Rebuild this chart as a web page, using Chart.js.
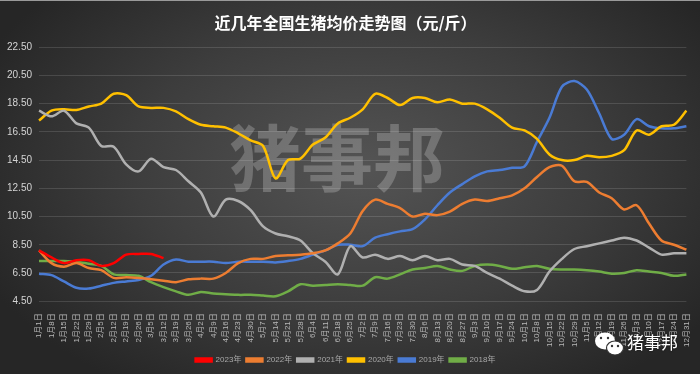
<!DOCTYPE html>
<html>
<head>
<meta charset="utf-8">
<script src="https://cdn.jsdelivr.net/npm/chart.js@4"></script>
<style>
  html, body { margin: 0; padding: 0; background: #222; }
  #wrap {
    position: relative;
    width: 700px;
    height: 374px;
    border-top: 1px solid #9a9a9a;
    box-sizing: border-box;
    background: radial-gradient(ellipse 60% 70% at 52% 45%, #545454 0%, #3d3d3d 55%, #262626 100%);
  }
</style>
</head>
<body>
<div id="wrap"><canvas id="chart" width="700" height="373"></canvas></div>
<script>
// weekly date labels
const dates = [
    '1月1日', '1月8日', '1月15日', '1月22日', '1月29日', '2月5日', '2月12日', '2月19日', '2月26日',
    '3月5日', '3月12日', '3月19日', '3月26日', '4月2日', '4月9日', '4月16日', '4月23日', '4月30日',
    '5月7日', '5月14日', '5月21日', '5月28日', '6月4日', '6月11日', '6月18日', '6月25日',
    '7月2日', '7月9日', '7月16日', '7月23日', '7月30日', '8月6日', '8月13日', '8月20日', '8月27日',
    '9月3日', '9月10日', '9月17日', '9月24日', '10月1日', '10月8日', '10月15日', '10月22日', '10月29日',
    '11月5日', '11月12日', '11月19日', '11月26日', '12月3日', '12月10日', '12月17日', '12月24日', '12月31日'
];

const price2023 = [8.1, 7.6, 7.2, 7.4, 7.4, 7.0, 7.2, 7.8, 7.85, 7.85, 7.55];

const price2022 = [8.1, 7.2, 6.95, 7.2, 6.85, 6.7, 6.15, 6.2, 6.15, 6.05, 5.95, 5.85, 6.05, 6.1, 6.1, 6.5,
    7.2, 7.5, 7.5, 7.7, 7.75, 7.8, 7.9, 8.1, 8.6, 9.3, 10.9, 11.7, 11.4, 11.1, 10.5, 10.7, 10.6, 10.85,
    11.4, 11.7, 11.6, 11.8, 12.0, 12.5, 13.3, 14.0, 14.1, 13.0, 12.95, 12.2, 11.8, 11.0, 11.3, 10.0,
    8.8, 8.5, 8.15];

const price2021 = [18.0, 17.6, 18.0, 17.1, 16.8, 15.5, 15.45, 14.2, 13.7, 14.6, 14.0, 13.8, 13.0, 12.2,
    10.5, 11.7, 11.6, 10.95, 9.8, 9.3, 9.1, 8.8, 7.9, 7.3, 6.4, 8.4, 7.6, 7.8, 7.5, 7.7, 7.4, 7.7, 7.4,
    7.5, 7.1, 7.0, 6.5, 6.1, 5.6, 5.2, 5.3, 6.6, 7.5, 8.2, 8.4, 8.6, 8.8, 9.0, 8.8, 8.3, 7.8, 7.9, 7.9];

const price2020 = [17.3, 18.0, 18.1, 18.05, 18.3, 18.5, 19.2, 19.1, 18.3, 18.2, 18.2, 17.95, 17.4, 17.0,
    16.9, 16.8, 16.4, 15.9, 15.5, 13.2, 14.5, 14.6, 15.6, 16.1, 17.1, 17.5, 18.1, 19.2, 18.9, 18.4,
    18.9, 18.9, 18.6, 18.8, 18.5, 18.5, 18.1, 17.5, 16.8, 16.6, 16.0, 14.9, 14.5, 14.5, 14.8, 14.7,
    14.8, 15.2, 16.6, 16.3, 16.9, 17.0, 18.0];

const price2019 = [6.45, 6.35, 5.9, 5.45, 5.4, 5.6, 5.8, 5.9, 6.0, 6.3, 7.1, 7.45, 7.3, 7.3, 7.3, 7.2,
    7.3, 7.3, 7.3, 7.25, 7.35, 7.5, 7.8, 8.1, 8.5, 8.5, 8.4, 9.0, 9.25, 9.45, 9.6, 10.3, 11.3, 12.2,
    12.8, 13.35, 13.7, 13.8, 13.95, 14.05, 15.8, 17.5, 19.7, 20.1, 19.5, 17.8, 16.0, 16.3, 17.4, 16.9,
    16.75, 16.75, 16.9];

const price2018 = [7.35, 7.35, 7.35, 7.3, 7.15, 7.0, 6.4, 6.35, 6.3, 5.85, 5.5, 5.2, 4.95, 5.15, 5.05,
    5.0, 4.95, 4.95, 4.9, 4.85, 5.2, 5.7, 5.6, 5.65, 5.7, 5.65, 5.6, 6.2, 6.1, 6.4, 6.75, 6.85, 7.0,
    6.75, 6.65, 7.0, 7.1, 7.0, 6.8, 6.9, 7.0, 6.8, 6.75, 6.75, 6.7, 6.6, 6.45, 6.5, 6.7, 6.6, 6.5, 6.3, 6.4];

const yTicks = [4.5, 6.5, 8.5, 10.5, 12.5, 14.5, 16.5, 18.5, 20.5, 22.5];

Chart.defaults.font.family = "'Liberation Sans', 'Noto Sans CJK SC', sans-serif";

function series(label, data, color) {
    return {
        label: label,
        data: data,
        borderColor: color,
        backgroundColor: color,
        borderWidth: 2.5,
        pointRadius: 0,
        tension: 0.3,
        fill: false
    };
}

// big watermark behind the lines, logo in the corner
const watermark = {
    id: 'watermark',
    beforeDatasetsDraw(chart) {
        const ctx = chart.ctx;
        ctx.save();
        ctx.font = "bold 72px 'Noto Sans CJK SC'";
        ctx.fillStyle = 'rgba(255,255,255,0.22)';
        ctx.textAlign = 'center';
        ctx.textBaseline = 'middle';
        ctx.fillText('猪事邦', 337, 157);
        ctx.restore();
    },
    afterDraw(chart) {
        const ctx = chart.ctx;
        ctx.save();
        // wechat bubbles
        ctx.fillStyle = '#fff';
        ctx.beginPath();
        ctx.ellipse(605, 340, 10, 8.5, 0, 0, Math.PI * 2);
        ctx.fill();
        ctx.strokeStyle = '#333';
        ctx.lineWidth = 1.2;
        ctx.beginPath();
        ctx.ellipse(615, 347, 8.5, 7, 0, 0, Math.PI * 2);
        ctx.fill();
        ctx.stroke();
        ctx.fillStyle = '#333';
        [[601, 337], [608, 337], [612, 345], [618, 345]].forEach(p => {
            ctx.beginPath();
            ctx.arc(p[0], p[1], 1.2, 0, Math.PI * 2);
            ctx.fill();
        });
        ctx.font = "17px 'Noto Sans CJK SC'";
        ctx.fillStyle = '#fff';
        ctx.shadowColor = 'rgba(0,0,0,0.6)';
        ctx.shadowBlur = 2;
        ctx.textBaseline = 'middle';
        ctx.fillText('猪事邦', 627, 342);
        ctx.restore();
    }
};

new Chart(document.getElementById('chart'), {
    type: 'line',
    data: {
        labels: dates,
        datasets: [
            series('2023年', price2023, '#ff0000'),
            series('2022年', price2022, '#ed7d31'),
            series('2021年', price2021, '#b0b0b0'),
            series('2020年', price2020, '#ffc000'),
            series('2019年', price2019, '#4a7bd4'),
            series('2018年', price2018, '#70ad47')
        ]
    },
    options: {
        responsive: false,
        animation: false,
        layout: { padding: { left: 0, right: 9, top: 0, bottom: 0 } },
        scales: {
            x: {
                grid: { display: false },
                border: { display: false },
                ticks: {
                    color: '#b8b8b8',
                    font: { size: 8 },
                    autoSkip: false,
                    maxRotation: 90,
                    minRotation: 90,
                    padding: 4
                }
            },
            y: {
                min: 4.5,
                max: 22.5,
                afterBuildTicks: (axis) => { axis.ticks = yTicks.map(v => ({ value: v })); },
                grid: { color: 'rgba(255,255,255,0.13)', drawTicks: false },
                border: { display: false },
                ticks: {
                    color: '#d4d4d4',
                    font: { size: 10 },
                    padding: 7,
                    callback: (value) => Number(value).toFixed(2)
                }
            }
        },
        plugins: {
            title: {
                display: true,
                text: '近几年全国生猪均价走势图（元/斤）',
                color: '#ffffff',
                font: { size: 16, weight: 'bold', family: "'Noto Sans CJK SC'" },
                padding: { top: 12, bottom: 15 }
            },
            legend: {
                position: 'bottom',
                labels: {
                    color: '#a8a8a8',
                    font: { size: 8 },
                    boxWidth: 16,
                    boxHeight: 3,
                    padding: 5
                }
            },
            tooltip: { enabled: false }
        }
    },
    plugins: [watermark]
});
</script>
</body>
</html>
